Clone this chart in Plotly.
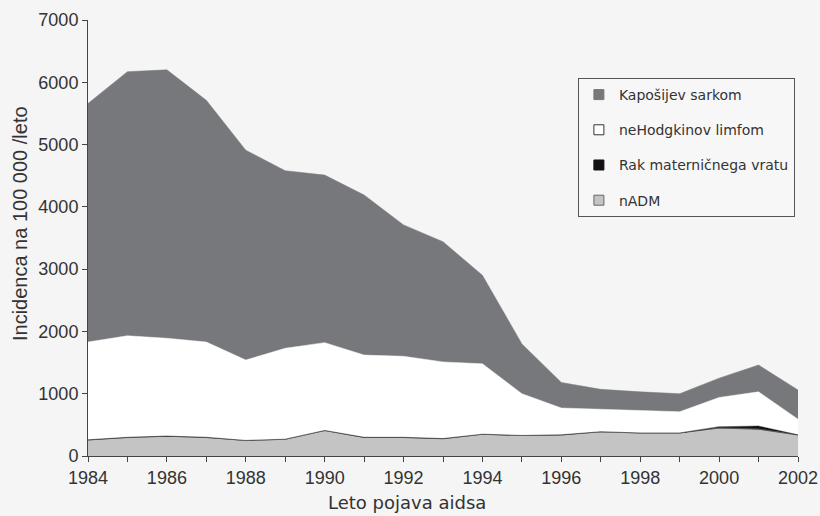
import plotly.graph_objects as go

years = list(range(1984, 2003))
# stacked component values (incidence per 100 000 / year)
nadm = [260, 300, 320, 300, 250, 270, 410, 300, 300, 280, 350, 330, 340, 390, 370, 370, 450, 430, 340]
cervix = [0, 0, 0, 0, 0, 0, 0, 0, 0, 0, 0, 0, 0, 0, 0, 0, 20, 50, 0]
nhl = [1570, 1630, 1570, 1530, 1290, 1460, 1410, 1320, 1300, 1230, 1130, 670, 430, 360, 360, 340, 470, 550, 250]
ks = [3830, 4240, 4310, 3880, 3370, 2850, 2690, 2570, 2110, 1930, 1420, 800, 410, 320, 300, 290, 310, 430, 470]

names = ["nADM", "Rak materničnega vratu", "neHodgkinov limfom", "Kapošijev sarkom"]
series = [nadm, cervix, nhl, ks]
fills = ["#c4c4c4", "#111111", "#ffffff", "#77787b"]
lines = ["#555555", "#111111", "#ffffff", "#77787b"]
widths = [1.2, 0.5, 0.5, 0.5]
legend_rank = [4, 3, 2, 1]
legend_border = ["#666666", "#111111", "#333333", "#77787b"]

fig = go.Figure()
for i, (n, s) in enumerate(zip(names, series)):
    fig.add_trace(go.Scatter(
        x=years, y=s, name=n, mode="lines", stackgroup="one",
        fillcolor=fills[i], line=dict(color=lines[i], width=widths[i]),
        showlegend=False, hoverinfo="skip",
    ))
# legend entries with square swatches
for i, n in enumerate(names):
    fig.add_trace(go.Scatter(
        x=[None], y=[None], name=n, mode="markers",
        marker=dict(symbol="square", size=10, color=fills[i],
                    line=dict(color=legend_border[i], width=1)),
        legendgroup=n, legendrank=legend_rank[i], showlegend=True,
    ))

tickvals = years
ticktext = [str(y) if y % 2 == 0 else "" for y in years]

fig.update_layout(
    width=820, height=516,
    margin=dict(l=88, r=22, t=20, b=60),
    paper_bgcolor="#f5f5f5", plot_bgcolor="#f5f5f5",
    font=dict(family="Liberation Sans, Arial, sans-serif", color="#333333"),
    showlegend=True,
    legend=dict(
        x=0.69, y=0.867, xanchor="left", yanchor="top",
        bgcolor="#f7f7f7", bordercolor="#555555", borderwidth=1,
        font=dict(family="DejaVu Sans, Verdana, sans-serif", size=14, color="#333333"),
        traceorder="grouped", tracegroupgap=14, itemwidth=30,
    ),
    xaxis=dict(
        range=[1984, 2002], tickvals=tickvals, ticktext=ticktext,
        showgrid=False, zeroline=False, showline=True, linecolor="#444444", linewidth=1,
        ticks="outside", ticklen=5, tickcolor="#444444", automargin=False,
        ticklabeloverflow="allow",
        tickfont=dict(size=18, family="Liberation Sans, Arial, sans-serif", color="#333333"),
    ),
    yaxis=dict(
        range=[0, 7000], dtick=1000,
        showgrid=False, zeroline=False, showline=True, linecolor="#444444", linewidth=1,
        ticks="outside", ticklen=5, tickcolor="#444444", automargin=False,
        ticklabeloverflow="allow",
        tickfont=dict(size=18, family="Liberation Sans, Arial, sans-serif", color="#333333"),
    ),
    annotations=[
        dict(text="Incidenca na 100 000 /leto", xref="paper", yref="paper",
             x=0, y=0.532, xshift=-68, xanchor="center", yanchor="middle",
             textangle=-90, showarrow=False,
             font=dict(size=20, family="Liberation Sans, Arial, sans-serif", color="#333333")),
        dict(text="Leto pojava aidsa", xref="paper", yref="paper",
             x=0.449, y=0, yshift=-46, xanchor="center", yanchor="middle",
             showarrow=False,
             font=dict(size=18, family="DejaVu Sans, Verdana, sans-serif", color="#333333")),
    ],
)

fig.write_html(
    "out.html",
    config={"displayModeBar": False},
    post_script="document.body.style.margin='0';document.body.style.overflow='hidden';",
)
